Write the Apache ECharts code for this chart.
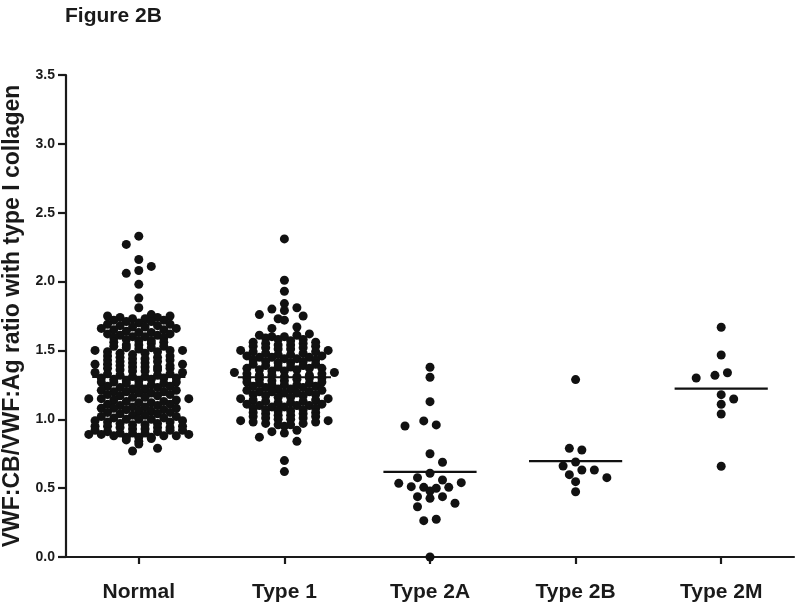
<!DOCTYPE html>
<html>
<head>
<meta charset="utf-8">
<script src="https://cdn.jsdelivr.net/npm/echarts@6/dist/echarts.min.js"></script>
<style>
html,body{margin:0;padding:0;background:#fff;}
#chart{width:800px;height:616px;}
</style>
</head>
<body>
<div id="chart"></div>
<script>
const titleText = 'Figure 2B';
const yAxisTitle = 'VWF:CB/VWF:Ag ratio with type I collagen';
const categories = ['Normal', 'Type 1', 'Type 2A', 'Type 2B', 'Type 2M'];
const yTicks = [0, 0.5, 1.0, 1.5, 2.0, 2.5, 3.0, 3.5];

const normal = [
  2.33, 2.27, 2.16, 2.11, 2.08, 2.06, 1.98, 1.88, 1.81,
  1.76, 1.75, 1.75, 1.74, 1.74, 1.73, 1.73, 1.72, 1.72, 1.71, 1.71, 1.70,
  1.69, 1.69, 1.68, 1.68, 1.67, 1.67, 1.66, 1.66, 1.65, 1.65, 1.64, 1.63, 1.63, 1.62, 1.62, 1.61, 1.61, 1.60,
  1.60, 1.59, 1.59, 1.58, 1.57, 1.57, 1.56, 1.56, 1.55, 1.54, 1.54, 1.53, 1.53, 1.52, 1.52, 1.51, 1.50, 1.50, 1.50,
  1.49, 1.49, 1.48, 1.48, 1.47, 1.46, 1.46, 1.45, 1.45, 1.44, 1.44, 1.43, 1.43, 1.42, 1.42, 1.41, 1.41, 1.40, 1.40, 1.40,
  1.39, 1.39, 1.38, 1.38, 1.38, 1.37, 1.37, 1.36, 1.36, 1.35, 1.35, 1.34, 1.34, 1.33, 1.33, 1.32, 1.32, 1.31, 1.31, 1.30, 1.30, 1.30,
  1.29, 1.29, 1.28, 1.28, 1.27, 1.27, 1.27, 1.26, 1.26, 1.25, 1.25, 1.24, 1.24, 1.23, 1.23, 1.22, 1.22, 1.21, 1.21, 1.20, 1.20, 1.20,
  1.19, 1.19, 1.18, 1.18, 1.17, 1.17, 1.16, 1.16, 1.15, 1.15, 1.15, 1.14, 1.14, 1.13, 1.13, 1.12, 1.12, 1.11, 1.11, 1.10, 1.10,
  1.09, 1.09, 1.08, 1.08, 1.08, 1.07, 1.07, 1.06, 1.06, 1.05, 1.05, 1.04, 1.04, 1.03, 1.03, 1.02, 1.02, 1.01, 1.01, 1.00, 1.00, 1.00,
  0.99, 0.99, 0.98, 0.98, 0.97, 0.97, 0.96, 0.96, 0.95, 0.95, 0.95, 0.94, 0.94, 0.94, 0.93, 0.93, 0.92, 0.92, 0.92, 0.91, 0.91, 0.90, 0.90, 0.90,
  0.89, 0.89, 0.89, 0.88, 0.88, 0.88, 0.87, 0.87, 0.87, 0.86, 0.85,
  0.84, 0.82, 0.79, 0.77
];

const type1 = [
  2.31, 2.01, 1.93, 1.84, 1.81, 1.80, 1.79, 1.76, 1.75, 1.73, 1.72, 1.67, 1.66,
  1.62, 1.61, 1.61, 1.60, 1.60, 1.59, 1.58, 1.58, 1.57, 1.56, 1.56, 1.55,
  1.55, 1.54, 1.54, 1.53, 1.53, 1.52, 1.52, 1.51, 1.51, 1.50,
  1.50, 1.49, 1.49, 1.48, 1.48, 1.47, 1.47, 1.46, 1.46, 1.45, 1.45, 1.45, 1.44, 1.44, 1.43, 1.43, 1.42, 1.42, 1.41, 1.41, 1.40, 1.40,
  1.39, 1.39, 1.38, 1.38, 1.37, 1.37, 1.37, 1.36, 1.36, 1.35, 1.35, 1.34, 1.34, 1.33, 1.33, 1.32, 1.32, 1.32, 1.31, 1.31, 1.30, 1.30, 1.30,
  1.29, 1.29, 1.28, 1.28, 1.27, 1.27, 1.26, 1.26, 1.25, 1.25, 1.25, 1.24, 1.24, 1.23, 1.23, 1.22, 1.22, 1.21, 1.21, 1.20, 1.20, 1.20,
  1.19, 1.19, 1.18, 1.18, 1.17, 1.17, 1.16, 1.16, 1.15, 1.15, 1.14, 1.14, 1.13, 1.13, 1.12, 1.12, 1.11, 1.11, 1.10, 1.10, 1.10,
  1.09, 1.09, 1.08, 1.08, 1.07, 1.07, 1.06, 1.06, 1.05, 1.05, 1.04, 1.04, 1.03, 1.03, 1.02, 1.02, 1.01, 1.01, 1.00,
  1.00, 0.99, 0.99, 0.98, 0.98, 0.97, 0.97, 0.96, 0.96, 0.95,
  0.92, 0.91, 0.90, 0.87, 0.84, 0.70, 0.62
];

const type2A = [
  1.378, 1.305, 1.128, 0.988, 0.951, 0.959, 0.750, 0.688, 0.608, 0.535, 0.506, 0.559, 0.576,
  0.506, 0.540, 0.499, 0.479, 0.511, 0.438, 0.426, 0.438, 0.390, 0.365, 0.274, 0.264, 0.0
];

const type2B = [1.288, 0.777, 0.789, 0.661, 0.690, 0.632, 0.576, 0.598, 0.632, 0.547, 0.474];

const type2M = [1.668, 1.467, 1.319, 1.300, 1.338, 1.179, 1.147, 1.109, 1.038, 0.659];

const groups = [normal, type1, type2A, type2B, type2M];

// ---- layout settings ----
const GRID = { left: 66, right: 6, top: 75, bottom: 59 };
const Y_MAX = 3.5;
const DOT = 9;           // symbol size (px)
const ROW_PX = 4.4;      // height of a layout row (px)
const COL_PX = 12.5;     // horizontal spacing of dots in a row (px)
const MEAN_HALF = 0.32;  // half width of mean line (category units)
const FONT = "'Liberation Sans', Arial, Helvetica, sans-serif";
const INK = '#1a1a1a';

const chart = echarts.init(document.getElementById('chart'), null, { renderer: 'canvas' });
const W = chart.getWidth(), H = chart.getHeight();
const pxPerUnitY = (H - GRID.top - GRID.bottom) / Y_MAX;
const bandPx = (W - GRID.left - GRID.right) / categories.length;

// Prism-like row layout: values falling in the same row are spread side by side;
// isolated dots that would overlap a neighbour are nudged sideways.
function rowLayout(values) {
  const rows = new Map();
  const rowOf = values.map(v => Math.floor((v * pxPerUnitY) / ROW_PX));
  values.forEach((v, i) => {
    const r = rowOf[i];
    if (!rows.has(r)) rows.set(r, []);
    rows.get(r).push(i);
  });
  const xs = new Array(values.length);
  let side = 1;
  rows.forEach(idx => {
    idx.sort((a, b) => values[a] - values[b]);
    const n = idx.length;
    idx.forEach((pi, k) => {
      let slot;
      if (n % 2 === 1) {
        const m = Math.ceil(k / 2);
        slot = k === 0 ? 0 : (k % 2 === 1 ? -m : m) * side;
      } else {
        const m = Math.floor(k / 2) + 0.5;
        slot = (k % 2 === 0 ? -m : m) * side;
      }
      xs[pi] = slot * COL_PX;
    });
    side = -side;
  });
  // nudge sparse dots
  const order = values.map((v, i) => i).sort((a, b) => values[b] - values[a]);
  const done = [];
  let toggle = -1;
  for (const i of order) {
    const y = values[i] * pxPerUnitY;
    if (rows.get(rowOf[i]).length <= 2) {
      const hit = x => done.some(p => Math.hypot(p.x - x, p.y - y) < DOT);
      if (hit(xs[i])) {
        const base = xs[i];
        for (const d of [toggle, -toggle, 2 * toggle, -2 * toggle]) {
          if (!hit(base + d * COL_PX)) { xs[i] = base + d * COL_PX; break; }
        }
        toggle = -toggle;
      }
    }
    done.push({ x: xs[i], y });
  }
  return xs;
}

const series = [];
groups.forEach((vals, gi) => {
  const offs = rowLayout(vals);
  series.push({
    type: 'scatter',
    xAxisIndex: 1,
    symbol: 'circle',
    symbolSize: DOT,
    clip: false,
    itemStyle: { color: '#111', opacity: 1 },
    data: vals.map((v, i) => [gi + offs[i] / bandPx, v]),
    z: 3
  });
  const mean = vals.reduce((s, v) => s + v, 0) / vals.length;
  series.push({
    type: 'line',
    xAxisIndex: 1,
    symbol: 'none',
    lineStyle: { color: '#111', width: 2.2 },
    data: [[gi - MEAN_HALF, mean], [gi + MEAN_HALF, mean]],
    z: 4,
    silent: true
  });
});

chart.setOption({
  animation: false,
  backgroundColor: '#fff',
  graphic: [{
    type: 'text', left: 65, top: 6,
    style: { text: titleText, font: 'bold 21px ' + FONT, fill: INK }
  }],
  grid: {
    left: GRID.left, right: GRID.right, top: GRID.top, bottom: GRID.bottom,
    containLabel: false, outerBoundsMode: 'none'
  },
  xAxis: [{
    type: 'category',
    data: categories,
    boundaryGap: true,
    axisLine: { onZero: false, lineStyle: { color: INK, width: 2.2 } },
    axisTick: { show: true, alignWithLabel: true, length: 7, lineStyle: { color: INK, width: 2.2 } },
    axisLabel: { color: INK, fontFamily: FONT, fontWeight: 'bold', fontSize: 21, margin: 25 },
    splitLine: { show: false }
  }, {
    type: 'value',
    min: -0.5, max: categories.length - 0.5,
    show: false,
    splitLine: { show: false }
  }],
  yAxis: {
    type: 'value',
    min: 0, max: Y_MAX, interval: 0.5,
    name: yAxisTitle,
    nameLocation: 'middle',
    nameGap: 37,
    nameTextStyle: { color: INK, fontFamily: FONT, fontWeight: 'bold', fontSize: 23 },
    axisLine: { show: true, onZero: false, lineStyle: { color: INK, width: 2.2 } },
    axisTick: { show: true, length: 8, lineStyle: { color: INK, width: 2.2 } },
    axisLabel: {
      color: INK, fontFamily: FONT, fontWeight: 'bold', fontSize: 14, margin: 11,
      formatter: v => yTicks.includes(v) ? v.toFixed(1) : ''
    },
    splitLine: { show: false }
  },
  series
});
</script>
</body>
</html>
